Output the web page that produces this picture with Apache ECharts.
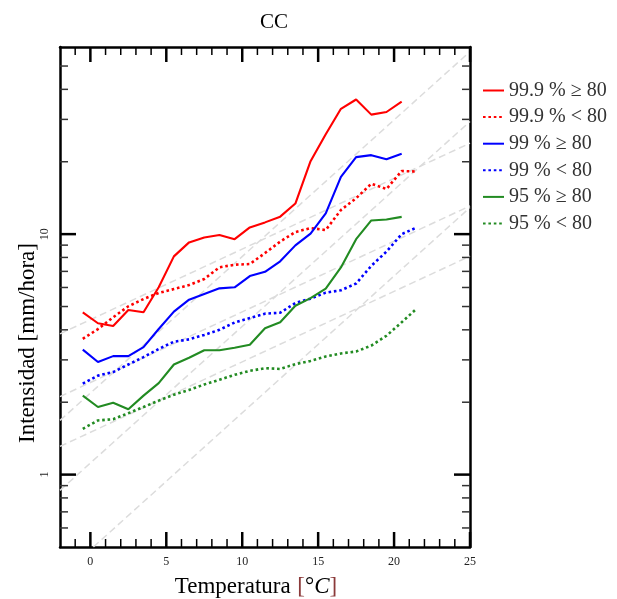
<!DOCTYPE html>
<html><head><meta charset="utf-8">
<script src="https://cdn.jsdelivr.net/npm/echarts@6/dist/echarts.min.js"></script>
<style>html,body{margin:0;padding:0;background:#fff}#c{width:617px;height:599px}</style>
</head><body><div id="c"></div>
<script>
// ---- data ----
const temps = [-0.5,0.5,1.5,2.5,3.5,4.5,5.5,6.5,7.5,8.5,9.5,10.5,11.5,12.5,13.5,14.5,15.5,16.5,17.5,18.5,19.5,20.5,21.5];
const p999ge = [4.73,4.26,4.15,4.84,4.73,6.01,8.08,9.24,9.69,9.91,9.53,10.66,11.19,11.82,13.4,20.1,26.0,33.2,36.3,31.4,32.2,35.6];
const p999lt = [3.67,4.03,4.51,5.01,5.37,5.69,5.91,6.14,6.51,7.28,7.46,7.51,8.34,9.31,10.2,10.6,10.4,12.6,14.1,16.2,15.4,18.3,18.2];
const p99ge  = [3.31,2.94,3.11,3.11,3.39,4.03,4.76,5.34,5.64,5.95,6.01,6.69,6.97,7.71,8.98,10.05,12.2,17.3,20.9,21.3,20.5,21.6];
const p99lt  = [2.39,2.58,2.67,2.87,3.08,3.33,3.57,3.65,3.81,4.0,4.29,4.48,4.67,4.71,5.17,5.39,5.71,5.84,6.23,7.38,8.46,10.0,10.66];
const p95ge  = [2.13,1.91,1.99,1.87,2.13,2.40,2.87,3.06,3.29,3.29,3.37,3.47,4.06,4.30,5.04,5.42,5.93,7.27,9.53,11.4,11.5,11.8];
const p95lt  = [1.55,1.68,1.70,1.80,1.91,2.03,2.15,2.25,2.37,2.48,2.60,2.70,2.77,2.75,2.88,2.97,3.10,3.19,3.25,3.44,3.78,4.30,4.91];
const seriesNames = ['99.9 % \u2265 80','99.9 % < 80','99 % \u2265 80','99 % < 80','95 % \u2265 80','95 % < 80'];
// reference (Clausius-Clapeyron) guide lines: start and end points
const refStart = [[-2,3.85],[-2,2.11],[-2,1.31],[-2,1.68],[-2,0.86],[0.2,0.5]];
const refEnd   = [[25,23.9],[25,13.1],[25,8.1],[25,57.4],[25,29.4],[25,12.9]];
// axes
const xMin = -2, xMax = 25, yMin = 0.5, yMax = 60;
const xMajor = [0,5,10,15,20,25];
const xMinor = [-1,1,2,3,4,6,7,8,9,11,12,13,14,16,17,18,19,21,22,23,24];
const yMajor = [1,10];
const yMinor = [0.6,0.7,0.8,0.9,2,3,4,5,6,7,8,9,20,30,40,50];

const F = 'Liberation Serif';
const chart = echarts.init(document.getElementById('c'));
const pairs = vals => vals.map((v,i) => [temps[i], v]);
const colors = ['#ff0000','#ff0000','#0000ff','#0000ff','#228b22','#228b22'];
const allData = [p999ge,p999lt,p99ge,p99lt,p95ge,p95lt];

const series = [];
refStart.forEach((s,i) => series.push({
  type:'line', data:[s, refEnd[i]], symbol:'none', silent:true, z:1, clip:true,
  lineStyle:{color:'#dcdcdc', width:1.5, type:[7,4]}
}));
allData.forEach((d,i) => series.push({
  name: seriesNames[i], type:'line', data: pairs(d), symbol:'none', showSymbol:false, z:3,
  color: colors[i],
  lineStyle: {color: colors[i], width: i%2===0 ? 2.1 : 2.6, type: i%2===0 ? 'solid' : [2.6,2.8]}
}));
function tickSeries(vals, isX, len, w, col){
  return {
    type:'custom', silent:true, z:6, clip:false,
    data: vals.map(v => isX ? [v, 1] : [xMin, v]),
    renderItem(params, api){
      let a, b, sh;
      if (isX){
        const v = api.value(0);
        a = api.coord([v, yMin]); b = api.coord([v, yMax]);
        sh = [[a[0],a[1],a[0],a[1]-len],[b[0],b[1],b[0],b[1]+len]];
      } else {
        const v = api.value(1);
        a = api.coord([xMin, v]); b = api.coord([xMax, v]);
        sh = [[a[0],a[1],a[0]+len,a[1]],[b[0],b[1],b[0]-len,b[1]]];
      }
      return {type:'group', children: sh.map(s => ({
        type:'line', shape:{x1:s[0],y1:s[1],x2:s[2],y2:s[3]},
        style:{stroke:col, lineWidth:w}
      }))};
    }
  };
}
series.push(tickSeries(xMajor, true, 15, 2.5, '#000'));
series.push(tickSeries(xMinor, true, 8, 1.5, '#000'));
series.push(tickSeries(yMajor, false, 16, 2.5, '#000'));
series.push(tickSeries(yMinor, false, 8, 1.5, '#333'));

const axLine = {show:true, onZero:false, lineStyle:{color:'#000', width:2.5}};
chart.setOption({
  animation:false,
  grid:{left:60, top:47, width:410, height:500},
  legend:{
    data: seriesNames, orient:'vertical', left:482, top:80.5, padding:0,
    itemWidth:21, itemHeight:14, itemGap:6.6,
    itemStyle:{opacity:0, borderWidth:0},
    textStyle:{fontFamily:F, fontSize:20, color:'#333', lineHeight:20}
  },
  xAxis:[
    {type:'value', min:xMin, max:xMax, position:'bottom', axisLine:axLine,
     axisTick:{show:false}, splitLine:{show:false},
     axisLabel:{customValues:xMajor, fontFamily:F, fontSize:12, color:'#222', margin:9}},
    {type:'value', min:xMin, max:xMax, position:'top', axisLine:axLine,
     axisTick:{show:false}, splitLine:{show:false}, axisLabel:{show:false}}
  ],
  yAxis:[
    {type:'log', min:yMin, max:yMax, position:'left', axisLine:axLine,
     axisTick:{show:false}, splitLine:{show:false}, minorTick:{show:false},
     axisLabel:{rotate:90, showMinLabel:false, showMaxLabel:false, fontFamily:F, fontSize:12, color:'#222', margin:9}},
    {type:'log', min:yMin, max:yMax, position:'right', axisLine:axLine,
     axisTick:{show:false}, splitLine:{show:false}, axisLabel:{show:false}}
  ],
  graphic:[
    {type:'text', x:274, y:22, style:{text:'CC', font:'21px "Liberation Serif"', fill:'#000', textAlign:'center', textVerticalAlign:'middle'}},
    {type:'text', x:256, y:587, style:{
      text:'{a|Temperatura}  {b|[}{a|°}{c|C}{b|]}', textAlign:'center', textVerticalAlign:'middle',
      rich:{a:{fontFamily:F, fontSize:23, fill:'#000'}, b:{fontFamily:F, fontSize:23, fill:'#8b3a3a'}, c:{fontFamily:F, fontSize:23, fontStyle:'italic', fill:'#000'}}}},
    {type:'text', x:28, y:343, rotation:Math.PI/2, style:{text:'Intensidad [mm/hora]', font:'23px "Liberation Serif"', fill:'#000', textAlign:'center', textVerticalAlign:'middle'}}
  ],
  series
});
</script></body></html>
